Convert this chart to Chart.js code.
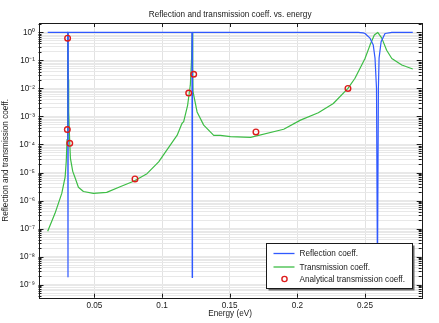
<!DOCTYPE html>
<html lang="en">
<head>
<meta charset="utf-8"/>
<title>Reflection and transmission coeff. vs. energy</title>
<script src="https://cdn.jsdelivr.net/npm/chart.js@4.4.1/dist/chart.umd.min.js"></script>
<style>
  html, body { margin: 0; padding: 0; background: #fff; }
  #wrap { width: 439px; height: 323px; }
</style>
</head>
<body>
<div id="wrap"><canvas id="chart" width="439" height="323"></canvas></div>
<script>
// Reflection coefficient vs. energy (eV)
const reflEnergy = [0.0155, 0.0303, 0.0305, 0.0307, 0.1217, 0.1221, 0.1223, 0.1225, 0.1229,
  0.2450, 0.2487, 0.2500, 0.2537, 0.2561, 0.2574, 0.2585, 0.2592, 0.2599, 0.2604, 0.2619,
  0.2648, 0.2698, 0.2853];
const reflCoeff = [1, 1, 1.9e-9, 1, 1, 0.96, 1.8e-9, 0.96, 1,
  1, 0.95, 0.91, 0.62, 0.35, 0.12, 0.01, 2e-9, 0.01, 0.12, 0.46,
  0.91, 0.99, 1];

// Transmission coefficient (numerical)
const transEnergy = [0.0155, 0.0209, 0.0259, 0.0284, 0.0292, 0.0298, 0.0301, 0.0303, 0.0305,
  0.0307, 0.0310, 0.0318, 0.0323, 0.0340, 0.0360, 0.0382, 0.0419, 0.0493, 0.0591, 0.0690,
  0.0790, 0.0889, 0.0975, 0.1085, 0.1111, 0.1147, 0.1160, 0.1189, 0.1209, 0.1218, 0.1223,
  0.1227, 0.1229, 0.1259, 0.1308, 0.1382, 0.1431, 0.1505, 0.1654, 0.1899, 0.2023, 0.2155,
  0.2266, 0.2374, 0.2426, 0.2500, 0.2537, 0.2569, 0.2594, 0.2624, 0.2660, 0.2698, 0.2772,
  0.2853];
const transCoeff = [8e-8, 3.5e-7, 1.8e-6, 7e-6, 2.5e-5, 1.5e-4, 6e-4, 0.05, 0.99,
  0.02, 1.5e-3, 1.1e-4, 3.2e-5, 1.1e-5, 6e-6, 3e-6, 2.1e-6, 1.8e-6, 1.95e-6, 3.1e-6,
  4.9e-6, 9.1e-6, 2.4e-5, 1.4e-4, 2.1e-4, 5.6e-4, 6.5e-4, 2.5e-3, 1.3e-2, 0.1, 0.99,
  0.05, 7.6e-3, 1.45e-3, 4.9e-4, 2.1e-4, 2.1e-4, 1.9e-4, 1.8e-4, 3.5e-4, 7.4e-4, 1.35e-3,
  2.9e-3, 1.0e-2, 2.3e-2, 0.117, 0.35, 0.8, 0.99, 0.62, 0.23, 0.117, 0.068,
  0.049];

// Analytical transmission coefficient
const anaEnergy = [0.0302, 0.0300, 0.0318, 0.0800, 0.1197, 0.1234, 0.1694, 0.2374];
const anaCoeff = [0.62, 3.4e-4, 1.1e-4, 5.9e-6, 6.8e-3, 0.032, 2.8e-4, 0.010];

const xTickValues = [0.05, 0.1, 0.15, 0.2, 0.25];
const yMin = 3.43e-10, yMax = 2.15;

const FONT = "'Liberation Sans', Arial, sans-serif";
Chart.defaults.font.family = FONT;
Chart.defaults.color = '#1a1a1a';

const toXY = (xs, ys) => xs.map((x, i) => ({ x: x, y: ys[i] }));

const supChars = { '-': '\u207B', '0': '\u2070', '1': '\u00B9', '2': '\u00B2', '3': '\u00B3',
  '4': '\u2074', '5': '\u2075', '6': '\u2076', '7': '\u2077', '8': '\u2078', '9': '\u2079' };
const toSup = n => String(n).split('').map(c => supChars[c]).join('');
const isDecade = v => Math.abs(Math.log10(v) - Math.round(Math.log10(v))) < 1e-6;

// 1..9 x 10^e tick positions for the log axis
const yTickValues = [];
for (let e = -10; e <= 0; e++) {
  for (let m = 1; m <= 9; m++) {
    const v = Number(m + 'e' + e);
    if (v >= yMin && v <= yMax) yTickValues.push(v);
  }
}

// inward tick marks on all four sides + frame
const frameTicks = {
  id: 'frameTicks',
  afterDatasetsDraw(chart) {
    const { ctx, chartArea: a, scales: { x, y } } = chart;
    ctx.save();
    ctx.strokeStyle = '#1a1a1a';
    ctx.lineWidth = 1;
    ctx.beginPath();
    y.ticks.forEach(t => {
      const py = Math.round(y.getPixelForValue(t.value)) + 0.5;
      const len = isDecade(t.value) ? 5 : 3;
      ctx.moveTo(a.left, py); ctx.lineTo(a.left + len, py);
      ctx.moveTo(a.right, py); ctx.lineTo(a.right - len, py);
    });
    x.ticks.forEach(t => {
      const px = Math.round(x.getPixelForValue(t.value)) + 0.5;
      ctx.moveTo(px, a.top); ctx.lineTo(px, a.top + 4);
      ctx.moveTo(px, a.bottom); ctx.lineTo(px, a.bottom - 4);
    });
    ctx.stroke();
    ctx.strokeRect(Math.round(a.left) + 0.5, Math.round(a.top) + 0.5,
      Math.round(a.right - a.left), Math.round(a.bottom - a.top));
    ctx.restore();
  }
};

// legend box in the lower right corner of the plot, with drop shadow
const boxLegend = {
  id: 'boxLegend',
  afterDraw(chart) {
    const { ctx, chartArea: a } = chart;
    const bw = 146, bh = 45;
    const bx = Math.round(a.right - 10 - bw) + 0.5;
    const by = Math.round(a.bottom - 10 - bh) + 0.5;
    const rows = [10, 23.5, 35.5];
    ctx.save();
    ctx.fillStyle = '#6a6a6a';
    ctx.fillRect(bx + 2, by + 2, bw, bh);
    ctx.fillStyle = '#fff';
    ctx.fillRect(bx, by, bw, bh);
    ctx.strokeStyle = '#1a1a1a';
    ctx.lineWidth = 1;
    ctx.strokeRect(bx, by, bw, bh);
    ctx.font = '8.2px ' + FONT;
    ctx.textBaseline = 'middle';
    chart.data.datasets.forEach((ds, i) => {
      const ry = by + rows[i];
      if (ds.showLine === false) {
        ctx.beginPath();
        ctx.arc(bx + 18, ry, 2.6, 0, Math.PI * 2);
        ctx.strokeStyle = ds.pointBorderColor;
        ctx.lineWidth = 1.4;
        ctx.stroke();
      } else {
        ctx.beginPath();
        ctx.moveTo(bx + 7, ry); ctx.lineTo(bx + 28, ry);
        ctx.strokeStyle = ds.borderColor;
        ctx.lineWidth = 1.3;
        ctx.stroke();
      }
      ctx.fillStyle = '#1a1a1a';
      ctx.fillText(ds.label, bx + 33, ry + 0.5);
    });
    ctx.restore();
  }
};

new Chart(document.getElementById('chart'), {
  type: 'line',
  data: {
    datasets: [
      {
        label: 'Reflection coeff.',
        data: toXY(reflEnergy, reflCoeff),
        borderColor: '#3059ff',
        borderWidth: 1.2,
        borderJoinStyle: 'round',
        pointRadius: 0,
        order: 1
      },
      {
        label: 'Transmission coeff.',
        data: toXY(transEnergy, transCoeff),
        borderColor: '#3dbd45',
        borderWidth: 1.2,
        borderJoinStyle: 'round',
        pointRadius: 0,
        order: 2
      },
      {
        label: 'Analytical transmission coeff.',
        data: toXY(anaEnergy, anaCoeff),
        showLine: false,
        pointRadius: 2.8,
        pointBorderWidth: 1.4,
        pointBorderColor: '#dd1c1c',
        pointBackgroundColor: 'rgba(0,0,0,0)',
        order: 0
      }
    ]
  },
  options: {
    responsive: false,
    animation: false,
    devicePixelRatio: 1,
    layout: { padding: { left: 0, right: 17.3, top: 0, bottom: 0 } },
    plugins: {
      legend: { display: false },
      tooltip: { enabled: false },
      title: {
        display: true,
        text: 'Reflection and transmission coeff. vs. energy',
        fullSize: false,
        color: '#1a1a1a',
        font: { size: 8.2, weight: 'normal' },
        padding: { top: 10, bottom: 3.16 }
      }
    },
    scales: {
      x: {
        type: 'linear',
        min: 0.0087,
        max: 0.2919,
        afterBuildTicks(axis) { axis.ticks = xTickValues.map(v => ({ value: v })); },
        afterFit(axis) { axis.height = 25.3; },
        ticks: {
          autoSkip: false,
          maxRotation: 0,
          padding: 3,
          font: { size: 8.2 },
          callback: v => String(Math.round(v * 100) / 100)
        },
        grid: { color: '#e2e2e2', drawTicks: false },
        border: { display: false },
        title: {
          display: true,
          text: 'Energy (eV)',
          font: { size: 8.2 },
          padding: { top: 0, bottom: 4.8 }
        }
      },
      y: {
        type: 'logarithmic',
        min: yMin,
        max: yMax,
        afterBuildTicks(axis) { axis.ticks = yTickValues.map(v => ({ value: v })); },
        afterFit(axis) { axis.width = 38.5; },
        ticks: {
          autoSkip: false,
          padding: 3.5,
          font: { size: 8.2 },
          callback: v => isDecade(v) ? '10' + toSup(Math.round(Math.log10(v))) : ''
        },
        grid: { color: '#e8e8e8', drawTicks: false },
        border: { display: false },
        title: {
          display: true,
          text: 'Reflection and transmission coeff.',
          font: { size: 8.2 },
          padding: { top: 1.1, bottom: 0 }
        }
      }
    }
  },
  plugins: [frameTicks, boxLegend]
});
</script>
</body>
</html>
